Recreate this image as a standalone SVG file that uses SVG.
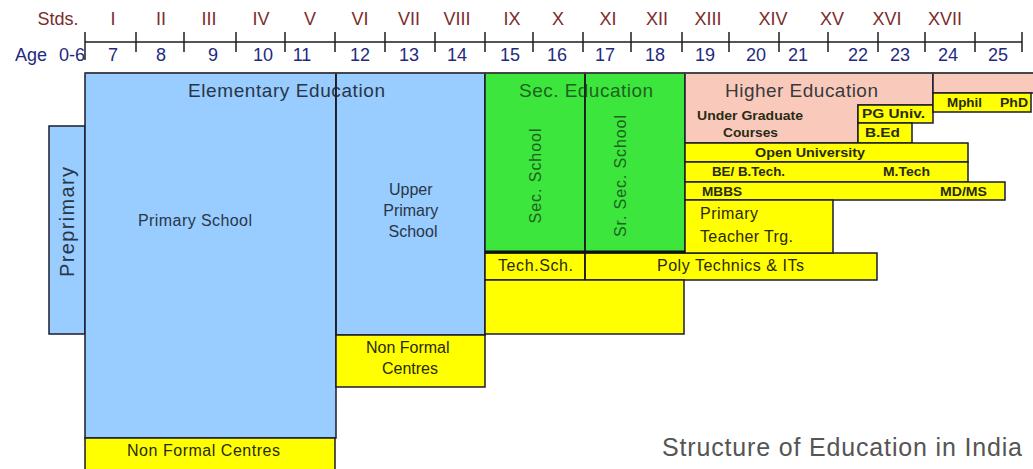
<svg xmlns="http://www.w3.org/2000/svg" width="1033" height="469" viewBox="0 0 1033 469">
  <style>
    .box { stroke: #1b1b2e; stroke-width: 1.5; }
    .blue { fill: #99ccff; }
    .green { fill: #3de63d; }
    .yellow { fill: #ffff00; }
    .pink { fill: #f9cabc; }
    .std { font-family: "Liberation Sans", Arial, sans-serif; font-size: 18px; fill: #7b2b2b; text-anchor: middle; }
    .age { font-family: "Liberation Sans", Arial, sans-serif; font-size: 18px; fill: #1f2a80; text-anchor: middle; }
    .head { font-family: "Liberation Sans", Arial, sans-serif; font-size: 19px; }
    .lbl { font-family: "Liberation Sans", Arial, sans-serif; font-size: 16px; }
    .big { font-size: 20px; }
    .small { font-family: "Liberation Sans", Arial, sans-serif; font-size: 13px; font-weight: bold; fill: #2a2a14; }
    .onblue { fill: #283647; }
    .ongreen { fill: #1f621f; }
    .onyellow { fill: #2a2a0c; }
    .onpink { fill: #3a3a3a; }
    .rule { stroke: #1e1e1e; stroke-width: 1.5; fill: none; }
  </style>

  <!-- standards and age scale -->
  <g id="scale">
    <text class="std" x="58" y="25">Stds.</text>
    <text class="std" x="113" y="25">I</text>
    <text class="std" x="161" y="25">II</text>
    <text class="std" x="209" y="25">III</text>
    <text class="std" x="261" y="25">IV</text>
    <text class="std" x="310" y="25">V</text>
    <text class="std" x="360" y="25">VI</text>
    <text class="std" x="409" y="25">VII</text>
    <text class="std" x="457" y="25">VIII</text>
    <text class="std" x="512" y="25">IX</text>
    <text class="std" x="558" y="25">X</text>
    <text class="std" x="608" y="25">XI</text>
    <text class="std" x="657" y="25">XII</text>
    <text class="std" x="708" y="25">XIII</text>
    <text class="std" x="773" y="25">XIV</text>
    <text class="std" x="832" y="25">XV</text>
    <text class="std" x="887" y="25">XVI</text>
    <text class="std" x="945" y="25">XVII</text>

    <path class="rule" d="M85 42H1022 M85 32V60 M136 32V52 M184 32V52 M236 32V52 M285 32V52 M335 32V52 M385 32V52 M435 32V52 M485 32V52 M533 32V52 M583 32V52 M631 32V52 M682 32V52 M729 32V52 M779 32V52 M828 32V52 M878 32V52 M925 32V52 M975 32V52 M1022 32V52"/>

    <text class="age" x="31" y="61">Age</text>
    <text class="age" x="72" y="61">0-6</text>
    <text class="age" x="113" y="61">7</text>
    <text class="age" x="161" y="61">8</text>
    <text class="age" x="213" y="61">9</text>
    <text class="age" x="263" y="61">10</text>
    <text class="age" x="302" y="61">11</text>
    <text class="age" x="360" y="61">12</text>
    <text class="age" x="409" y="61">13</text>
    <text class="age" x="457" y="61">14</text>
    <text class="age" x="510" y="61">15</text>
    <text class="age" x="557" y="61">16</text>
    <text class="age" x="605" y="61">17</text>
    <text class="age" x="655" y="61">18</text>
    <text class="age" x="705" y="61">19</text>
    <text class="age" x="756" y="61">20</text>
    <text class="age" x="798" y="61">21</text>
    <text class="age" x="858" y="61">22</text>
    <text class="age" x="900" y="61">23</text>
    <text class="age" x="948" y="61">24</text>
    <text class="age" x="998" y="61">25</text>
  </g>

  <!-- elementary stage -->
  <g id="preprimary">
    <rect class="box blue" x="49" y="126" width="36" height="208"/>
    <text class="lbl big onblue" text-anchor="middle" transform="translate(74,222) rotate(-90)" textLength="110">Preprimary</text>
  </g>
  <g id="primary-school">
    <rect class="box blue" x="85" y="73" width="251" height="365"/>
    <text class="lbl onblue" x="138" y="226" textLength="114">Primary School</text>
  </g>
  <g id="upper-primary">
    <rect class="box blue" x="336" y="73" width="149" height="262"/>
    <text class="lbl onblue" text-anchor="middle">
      <tspan x="413" y="195">Upper</tspan>
      <tspan x="413" y="216">Primary</tspan>
      <tspan x="413" y="237">School</tspan>
    </text>
  </g>
  <g id="non-formal-upper">
    <rect class="box yellow" x="336" y="335" width="149" height="52"/>
    <text class="lbl onyellow" text-anchor="middle">
      <tspan x="410" y="353">Non Formal</tspan>
      <tspan x="410" y="374">Centres</tspan>
    </text>
  </g>
  <g id="non-formal-primary">
    <rect class="box yellow" x="85" y="438" width="250" height="32"/>
    <text class="lbl onyellow" x="127" y="456" textLength="153">Non Formal Centres</text>
  </g>

  <!-- secondary stage -->
  <g id="sec-school">
    <rect class="box green" x="485" y="73" width="100" height="179"/>
    <text class="lbl ongreen" text-anchor="middle" transform="translate(541,176) rotate(-90)" textLength="95">Sec. School</text>
  </g>
  <g id="sr-sec-school">
    <rect class="box green" x="585" y="73" width="100" height="179"/>
    <text class="lbl ongreen" text-anchor="middle" transform="translate(626,176) rotate(-90)" textLength="122">Sr. Sec. School</text>
  </g>
  <g id="tech-school">
    <rect class="box yellow" x="485" y="253" width="100" height="27"/>
    <text class="lbl onyellow" x="498" y="271" textLength="75">Tech.Sch.</text>
  </g>
  <g id="polytechnics">
    <rect class="box yellow" x="585" y="253" width="292" height="27"/>
    <text class="lbl onyellow" x="657" y="271" textLength="147">Poly Technics &amp; ITs</text>
  </g>
  <g id="vocational">
    <rect class="box yellow" x="485" y="280" width="199" height="54"/>
  </g>

  <!-- higher education -->
  <g id="higher-education">
    <path class="box pink" d="M685 73H933V105H858V143H685Z"/>
    <text class="small" x="697" y="120" textLength="106" lengthAdjust="spacingAndGlyphs">Under Graduate</text>
    <text class="small" x="723" y="137" textLength="55" lengthAdjust="spacingAndGlyphs">Courses</text>
  </g>
  <g id="pg-univ">
    <rect class="box yellow" x="858" y="105" width="75" height="18"/>
    <text class="small" x="862" y="118" textLength="63" lengthAdjust="spacingAndGlyphs">PG Univ.</text>
  </g>
  <g id="bed">
    <rect class="box yellow" x="858" y="123" width="54" height="20"/>
    <text class="small" x="865" y="137" textLength="35" lengthAdjust="spacingAndGlyphs">B.Ed</text>
  </g>
  <g id="research">
    <rect class="box pink" x="933" y="73" width="101" height="20"/>
    <rect class="box yellow" x="933" y="93" width="98" height="19"/>
    <text class="small" x="947" y="107" textLength="35" lengthAdjust="spacingAndGlyphs">Mphil</text>
    <text class="small" x="1000" y="107" textLength="28" lengthAdjust="spacingAndGlyphs">PhD</text>
  </g>
  <g id="open-university">
    <rect class="box yellow" x="685" y="143" width="283" height="19"/>
    <text class="small" x="755" y="157" textLength="110" lengthAdjust="spacingAndGlyphs">Open University</text>
  </g>
  <g id="engineering">
    <rect class="box yellow" x="685" y="162" width="283" height="20"/>
    <text class="small" x="712" y="176" textLength="73" lengthAdjust="spacingAndGlyphs">BE/ B.Tech.</text>
    <text class="small" x="883" y="176" textLength="47" lengthAdjust="spacingAndGlyphs">M.Tech</text>
  </g>
  <g id="medicine">
    <rect class="box yellow" x="685" y="182" width="320" height="18"/>
    <text class="small" x="702" y="196" textLength="40" lengthAdjust="spacingAndGlyphs">MBBS</text>
    <text class="small" x="940" y="196" textLength="47" lengthAdjust="spacingAndGlyphs">MD/MS</text>
  </g>
  <g id="teacher-training">
    <rect class="box yellow" x="685" y="200" width="148" height="53"/>
    <text class="lbl onyellow">
      <tspan x="700" y="219" textLength="58">Primary</tspan>
      <tspan x="700" y="242" textLength="93">Teacher Trg.</tspan>
    </text>
  </g>

  <!-- stage headings, with the stage dividers stroked over them -->
  <g id="headings">
    <text class="head onblue" x="188" y="97" textLength="197">Elementary Education</text>
    <text class="head ongreen" x="519" y="97" textLength="134">Sec. Education</text>
    <text class="head onpink" x="725" y="97" textLength="153">Higher Education</text>
  </g>
  <g id="connectors">
    <path class="rule" d="M336 73V335 M585 73V280"/>
    <path d="M485 252H685" stroke="#111" stroke-width="3"/>
    <path d="M85 73H1033" stroke="#444" stroke-width="1.5"/>
  </g>

  <text id="title" x="662" y="456" font-family="'Liberation Sans', Arial, sans-serif" font-size="25" fill="#555" textLength="360">Structure of Education in India</text>
</svg>
